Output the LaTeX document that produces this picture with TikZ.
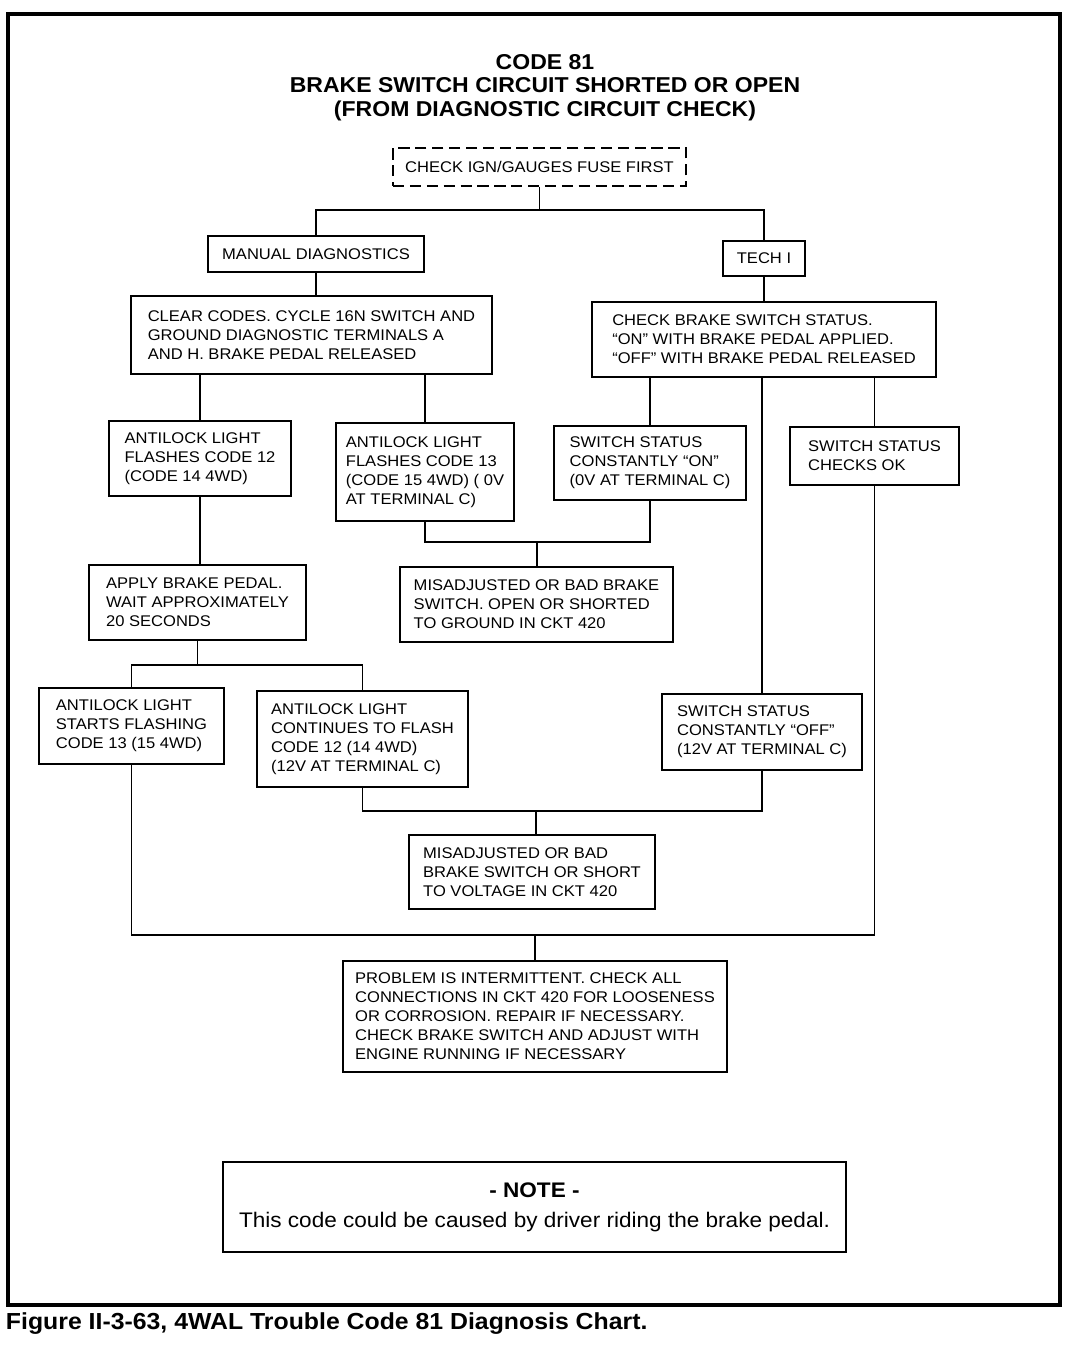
\documentclass[tikz,border=0pt]{standalone}
\usepackage{fontspec}
\setmainfont{Liberation Sans}[FakeStretch=1.07]
\usetikzlibrary{positioning,calc}

\newcommand{\boxfont}{\fontsize{11}{13.5}\selectfont}
\newcommand{\titlefont}{\fontsize{15.3}{16.9}\selectfont\bfseries}
\newcommand{\notefont}{\fontsize{15}{21.3}\selectfont}
\newcommand{\capfont}{\fontsize{16.5}{18}\selectfont\bfseries}

\tikzset{
  box/.style 2 args={draw, line width=1.3pt, inner sep=0pt, align=left, font=\boxfont,
    minimum width=#1*0.025cm, minimum height=#2*0.025cm},
  cbox/.style 2 args={box={#1}{#2}, align=center},
  link/.style={line width=1.3pt},
}

\begin{document}
\begin{tikzpicture}[x=0.025cm,y=-0.025cm]
    \useasboundingbox (0,0) rectangle (1088,1360);

    % Frame and title
    \draw[line width=2.2pt] (8,14) rectangle (1060,1305);
    \node[font=\titlefont, align=center] (title) at (545,87.5)
        {CODE 81\\BRAKE SWITCH CIRCUIT SHORTED OR OPEN\\(FROM DIAGNOSTIC CIRCUIT CHECK)};

    % Start
    \node[cbox={293}{38}, dash pattern=on 8pt off 4pt] (fuse) at (539.5,167) {CHECK IGN/GAUGES FUSE FIRST};
    \node[cbox={216}{36}] (manual) at (316,254) {MANUAL DIAGNOSTICS};
    \node[cbox={82}{35}] (tech) at (764,258.5) {TECH I};
    \coordinate (j1) at (539.5,210);
    \draw[link] (fuse.south) -- (j1);
    \draw[link] (manual.north) |- (j1) -| (tech.north);

    % Manual diagnostics
    \node[box={361}{78}] (clear) at (311.5,335)
        {CLEAR CODES. CYCLE 16N SWITCH AND\\GROUND DIAGNOSTIC TERMINALS A\\AND H. BRAKE PEDAL RELEASED};
    \draw[link] (manual.south) -- (manual.south |- clear.north);
    \node[box={182}{75}] (a12) at (200,458.5) {ANTILOCK LIGHT\\FLASHES CODE 12\\(CODE 14 4WD)};
    \node[box={178}{98}] (a13) at (425,472) {ANTILOCK LIGHT\\FLASHES CODE 13\\(CODE 15 4WD) ( 0V\\AT TERMINAL C)};
    \draw[link] (clear.south -| a12.north) -- (a12.north);
    \draw[link] (clear.south -| a13.north) -- (a13.north);
    \node[box={217}{75}] (apply) at (197.5,602.5) {APPLY BRAKE PEDAL.\\WAIT APPROXIMATELY\\20 SECONDS};
    \draw[link] (a12.south) -- (a12.south |- apply.north);

    % Tech I
    \node[box={344}{75}] (status) at (764,339.5)
        {CHECK BRAKE SWITCH STATUS.\\``ON'' WITH BRAKE PEDAL APPLIED.\\``OFF'' WITH BRAKE PEDAL RELEASED};
    \draw[link] (tech.south) -- (tech.south |- status.north);
    \node[box={192}{74}] (on) at (650,463) {SWITCH STATUS\\CONSTANTLY ``ON''\\(0V AT TERMINAL C)};
    \node[box={169}{58}] (ok) at (874.5,456) {SWITCH STATUS\\CHECKS OK};
    \node[box={200}{76}] (off) at (762,732) {SWITCH STATUS\\CONSTANTLY ``OFF''\\(12V AT TERMINAL C)};
    \draw[link] (status.south -| on.north) -- (on.north);
    \draw[link] (status.south -| ok.north) -- (ok.north);
    \draw[link] (status.south -| off.north) -- (off.north);

    % Shorted to ground
    \node[box={273}{75}] (gnd) at (536.5,604.5)
        {MISADJUSTED OR BAD BRAKE\\SWITCH. OPEN OR SHORTED\\TO GROUND IN CKT 420};
    \coordinate (j2) at (537,542);
    \draw[link] (a13.south) |- (j2) -| (on.south);
    \draw[link] (j2) -- (j2 |- gnd.north);

    % After applying pedal
    \node[box={185}{76}] (starts) at (131.5,726) {ANTILOCK LIGHT\\STARTS FLASHING\\CODE 13 (15 4WD)};
    \node[box={211}{96}] (cont) at (362.5,739)
        {ANTILOCK LIGHT\\CONTINUES TO FLASH\\CODE 12 (14 4WD)\\(12V AT TERMINAL C)};
    \coordinate (j3) at (197.5,665);
    \draw[link] (apply.south) -- (j3);
    \draw[link] (starts.north) |- (j3) -| (cont.north);

    % Shorted to voltage
    \node[box={246}{74}] (volt) at (532,872)
        {MISADJUSTED OR BAD\\BRAKE SWITCH OR SHORT\\TO VOLTAGE IN CKT 420};
    \coordinate (j4) at (536,811);
    \draw[link] (cont.south) |- (j4) -| (off.south);
    \draw[link] (j4) -- (j4 |- volt.north);

    % Intermittent
    \node[box={384}{111}] (problem) at (535,1016.5)
        {PROBLEM IS INTERMITTENT. CHECK ALL\\CONNECTIONS IN CKT 420 FOR LOOSENESS\\OR CORROSION. REPAIR IF NECESSARY.\\CHECK BRAKE SWITCH AND ADJUST WITH\\ENGINE RUNNING IF NECESSARY};
    \coordinate (j5) at (535,935);
    \draw[link] (starts.south) |- (j5) -| (ok.south);
    \draw[link] (j5) -- (problem.north);

    % Note and caption
    \node[cbox={623}{90}, font=\notefont] (note) at (534.5,1207)
        {\textbf{- NOTE -}\\This code could be caused by driver riding the brake pedal.};
    \node[font=\capfont, anchor=base west] (caption) at (1,1329)
        {Figure II-3-63, 4WAL Trouble Code 81 Diagnosis Chart.};
\end{tikzpicture}
\end{document}
